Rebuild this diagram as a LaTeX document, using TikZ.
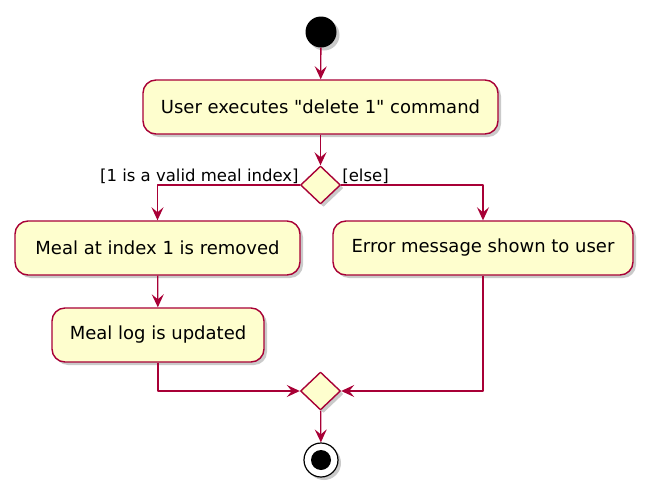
\documentclass[tikz,border=0pt]{standalone}
\usepackage{fontspec}
\setmainfont{DejaVu Sans}[Ligatures=TeXOff]
\usetikzlibrary{shapes.geometric,arrows.meta,shadows}
\definecolor{umlred}{HTML}{A80036}
\definecolor{umlfill}{HTML}{FEFECE}
\tikzset{
  shade/.style={drop shadow={shadow xshift=3pt,shadow yshift=-3pt,opacity=0.35,fill=black!60}},
  act/.style={draw=umlred, fill=umlfill, line width=1.4pt, rounded corners=13pt,
    minimum height=54pt, align=center, shade},
  choice/.style={diamond, draw=umlred, fill=umlfill, line width=1.4pt, inner sep=0pt,
    minimum width=40pt, minimum height=38pt, shade},
  flow/.style={umlred, line width=1.3pt, ->},
  guard/.style={inner sep=1pt, font=\fontsize{16.5}{19}\selectfont},
}
\begin{document}
\begin{tikzpicture}[x=1pt, y=-1pt, font=\fontsize{18}{21}\selectfont, line join=round,
  >={Stealth[length=13pt,width=12pt,inset=5pt]}]
\useasboundingbox (0,0) rectangle (649,493);
% start and end
\node[circle, fill=black, minimum size=31pt, inner sep=0pt, shade] (start) at (321,32) {};
\node[circle, draw=black, fill=white, line width=1.2pt, minimum size=34pt, inner sep=0pt, shade] (stop) at (321,460) {};
\fill (stop.center) circle (10pt);
% actions
\node[act, minimum width=355pt] (cmd) at (320.5,107) {User executes "delete 1" command};
\node[choice] (split) at (320.5,185) {};
\node[act, minimum width=285pt] (remove) at (157.5,248) {Meal at index 1 is removed};
\node[act, minimum width=212pt] (update) at (158,335) {Meal log is updated};
\node[act, minimum width=300pt] (error) at (483,248) {Error message shown to user};
\node[choice] (merge) at (320.5,391) {};
% guards
\node[guard, anchor=base east] (yes) at (split.west) [yshift=4pt] {[1 is a valid meal index]};
\node[guard, anchor=base west] (no) at (split.east) [yshift=4pt] {[else]};
% flows
\draw[flow] (start) -- (cmd);
\draw[flow] (cmd) -- (split);
\draw[flow] (split.west) -| (remove.north);
\draw[flow] (split.east) -| (error.north);
\draw[flow] (remove) -- (update);
\draw[flow] (update.south) |- (merge.west);
\draw[flow] (error.south) |- (merge.east);
\draw[flow] (merge) -- (stop);
\end{tikzpicture}
\end{document}
